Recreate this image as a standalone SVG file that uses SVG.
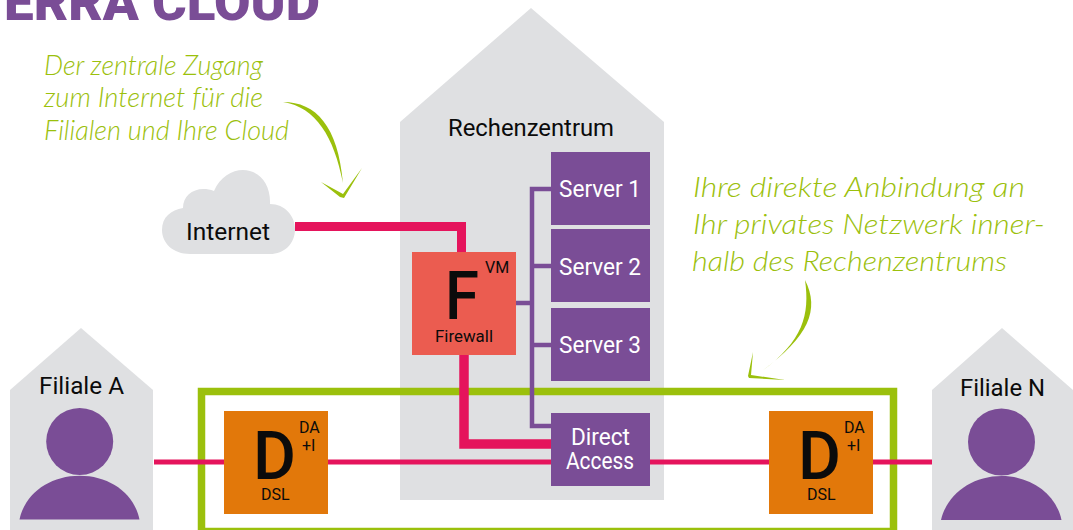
<svg xmlns="http://www.w3.org/2000/svg" width="1073" height="530" viewBox="0 0 1073 530">
<style>
text{font-family:"Roboto","Liberation Sans",sans-serif;font-weight:400;fill:#0b0b0b}
.w{fill:#fff}
.hand{font-family:"Lato","Noto Sans",sans-serif;font-weight:300;font-style:italic;fill:#9bc00c;font-size:27px}
.house{fill:#dfe0e2}
.pur{fill:#7a4d96}
.or{fill:#e2780a}
.pk{fill:none;stroke:#e5145c}
.pl{fill:none;stroke:#7a4d96;stroke-width:4.5}
.gr{fill:#9bc00c}
.big{font-weight:500;font-size:67px}
.sm{font-size:16px}
.lb{font-size:23px}
</style>
<text x="4" y="20" font-size="52" textLength="316" lengthAdjust="spacingAndGlyphs" style="fill:#7a4d96;font-weight:900">ERRA CLOUD</text>
<g id="rechenzentrum"><polygon class="house" points="400,122 531,8 664,122 664,500 400,500"/><text class="lb" x="448" y="136" textLength="166" lengthAdjust="spacingAndGlyphs">Rechenzentrum</text></g>
<g id="filiale-a"><polygon class="house" points="10,390 81,328 153,390 153,530 10,530"/><text class="lb" x="39" y="394" textLength="85" lengthAdjust="spacingAndGlyphs">Filiale A</text><circle class="pur" cx="79.7" cy="441.5" r="33.5"/><path class="pur" d="M19.5 519.5C25 493 50 475.7 79.700 475.7S134 493 139.5 519.5Z"/></g>
<g id="filiale-n"><polygon class="house" points="932,390 1002,328 1073,390 1073,530 932,530"/><text class="lb" x="960" y="396" textLength="85" lengthAdjust="spacingAndGlyphs">Filiale N</text><circle class="pur" cx="1001.5" cy="442" r="33.5"/><path class="pur" d="M941 520C947 494 972 476 1001.5 476S1056 494 1061.5 520Z"/></g>
<g id="private-network"><rect x="201.5" y="391.5" width="692" height="140" fill="none" stroke="#9bc00c" stroke-width="7.5"/></g>
<g id="connectors">
<path class="pk" stroke-width="9" d="M295 226.500H461.500V252"/>
<path class="pk" stroke-width="9.500" d="M464 355V444H551"/>
<path class="pk" stroke-width="5" d="M154 462H932"/>
<path class="pl" d="M516 303H532M551 189H532V426H551M532 266H551M532 345H551"/>
</g>
<g id="internet"><path fill="#dfe0e2" d="M183 208C183 194 197 185 214 191C220 177 232 170 243 170C259 170 271 184 270 204C285 204 295 216 295 229C295 244 284 254 270 254H190C173 254 162 243 162 230C162 217 171 210 183 208Z"/><text class="lb" x="186" y="240" textLength="84" lengthAdjust="spacingAndGlyphs">Internet</text></g>
<g id="firewall"><rect x="412" y="252" width="104" height="103" fill="#eb5c50"/><text class="big" x="445" y="319" textLength="34" lengthAdjust="spacingAndGlyphs">F</text><text class="sm" x="485" y="273">VM</text><text class="sm" x="435" y="342" textLength="58" lengthAdjust="spacingAndGlyphs">Firewall</text></g>
<g id="server-1"><rect class="pur" x="551" y="152" width="99" height="73"/><text class="w lb" x="559" y="197" textLength="82" lengthAdjust="spacingAndGlyphs">Server 1</text></g>
<g id="server-2"><rect class="pur" x="551" y="229" width="99" height="73"/><text class="w lb" x="559" y="275" textLength="82" lengthAdjust="spacingAndGlyphs">Server 2</text></g>
<g id="server-3"><rect class="pur" x="551" y="308" width="99" height="73"/><text class="w lb" x="559" y="353" textLength="82" lengthAdjust="spacingAndGlyphs">Server 3</text></g>
<g id="direct-access"><rect class="pur" x="551" y="413" width="99" height="73"/><text class="w lb" x="571" y="445" textLength="59" lengthAdjust="spacingAndGlyphs">Direct</text><text class="w lb" x="566" y="469" textLength="68" lengthAdjust="spacingAndGlyphs">Access</text></g>
<g id="dsl-a"><rect class="or" x="224" y="411" width="104" height="103"/><text class="big" x="253" y="479" textLength="43" lengthAdjust="spacingAndGlyphs">D</text><text class="sm" x="299" y="433">DA</text><text class="sm" x="302" y="451">+I</text><text class="sm" x="261" y="500">DSL</text></g>
<g id="dsl-n"><rect class="or" x="769" y="411" width="104" height="103"/><text class="big" x="798" y="479" textLength="43" lengthAdjust="spacingAndGlyphs">D</text><text class="sm" x="844" y="433">DA</text><text class="sm" x="847" y="451">+I</text><text class="sm" x="807" y="500">DSL</text></g>
<g id="note-internet">
<text class="hand" x="44" y="75" textLength="219" lengthAdjust="spacingAndGlyphs">Der zentrale Zugang</text>
<text class="hand" x="44" y="107" textLength="219" lengthAdjust="spacingAndGlyphs">zum Internet für die</text>
<text class="hand" x="44" y="140" textLength="245" lengthAdjust="spacingAndGlyphs">Filialen und Ihre Cloud</text>
<path class="gr" d="M283 102C316 102 338 126 343 183C334 137 316 107 283 102Z"/>
<path class="gr" d="M321 182L343 194L362 168L344 198L340 197Z"/>
</g>
<g id="note-network">
<text class="hand" x="693" y="197" textLength="332" lengthAdjust="spacingAndGlyphs">Ihre direkte Anbindung an</text>
<text class="hand" x="693" y="234" textLength="352" lengthAdjust="spacingAndGlyphs">Ihr privates Netzwerk inner-</text>
<text class="hand" x="692" y="271" textLength="315" lengthAdjust="spacingAndGlyphs">halb des Rechenzentrums</text>
<path class="gr" d="M805 280C820 310 809 336 762 371C803 341 810 315 805 280Z"/>
<path class="gr" d="M753 352L751 375L785 380L749 378L748 376Z"/>
</g>
</svg>
